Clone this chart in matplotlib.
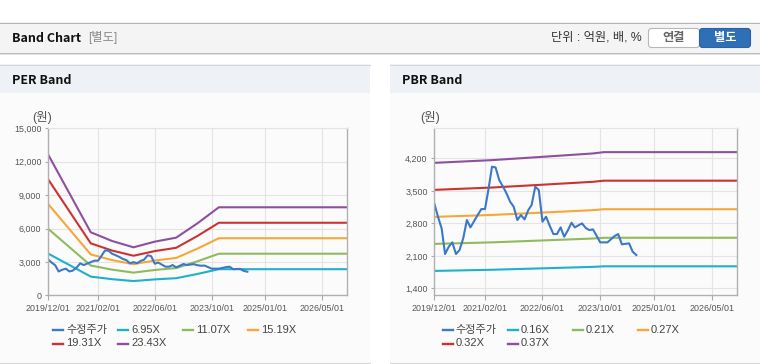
import numpy as np
import pandas as pd
import matplotlib
matplotlib.use('Agg')
from matplotlib import pyplot as plt
from matplotlib.patches import Rectangle, FancyBboxPatch
from matplotlib.lines import Line2D

plt.rcParams['font.family'] = ['Liberation Sans', 'Noto Sans CJK KR', 'DejaVu Sans']

# adjusted share price, monthly from 2019/12
price = [3231, 2944, 2692, 2140, 2298, 2391, 2140, 2226, 2477, 2872, 2714, 2850,
         2980, 3109, 3109, 3518, 4021, 4007, 3734, 3600, 3450, 3267, 3159, 2872,
         2980, 2886, 3087, 3195, 3590, 3518, 2836, 2944, 2750, 2570, 2570, 2714,
         2513, 2650, 2814, 2714, 2760, 2800, 2700, 2656, 2671, 2530, 2391, 2391,
         2391, 2460, 2530, 2570, 2348, 2360, 2369, 2190, 2118]
price_dates = pd.date_range('2019-12-01', periods=len(price), freq='MS')

# PER band: EPS basis
per_dates = pd.to_datetime(['2019-12-01', '2020-12-01', '2021-01-01', '2021-06-01',
                            '2021-12-01', '2022-06-01', '2022-12-01', '2023-06-01',
                            '2023-12-01', '2026-12-01'])
per_eps = [540.5, 241.4, 236.0, 208.2, 184.0, 205.6, 221.0, 275.9, 337.4, 337.4]
per_multiples = [6.95, 11.07, 15.19, 19.31, 23.43]
per_labels = ['6.95X', '11.07X', '15.19X', '19.31X', '23.43X']

# PBR band: BPS basis
pbr_dates = pd.to_datetime(['2019-12-01', '2021-04-01', '2022-06-01', '2023-08-01',
                            '2023-11-01', '2026-12-01'])
pbr_bps = [11095, 11254, 11446, 11643, 11719, 11719]
pbr_multiples = [0.160, 0.2125, 0.265, 0.3175, 0.370]
pbr_labels = ['0.16X', '0.21X', '0.27X', '0.32X', '0.37X']

x_ticks = pd.to_datetime(['2019-12-01', '2021-02-01', '2022-06-01', '2023-10-01',
                          '2025-01-01', '2026-05-01'])
x_tick_labels = ['2019/12/01', '2021/02/01', '2022/06/01', '2023/10/01',
                 '2025/01/01', '2026/05/01']
x_range = pd.to_datetime(['2019-12-01', '2026-12-01'])

colors = ['#3c78c8', '#1fb1c9', '#8fbb5c', '#f6a737', '#cd3232', '#8f4f9f']

W, H = 760, 364
fig = plt.figure(figsize=(W / 100, H / 100), dpi=100)


def box(x, y, w, h, **kw):
    fig.patches.append(Rectangle((x / W, 1 - (y + h) / H), w / W, h / H,
                                 transform=fig.transFigure, lw=0, zorder=-5, **kw))


def hline(x0, x1, y, color, lw=1.0):
    fig.add_artist(Line2D([x0 / W, x1 / W], [1 - y / H, 1 - y / H],
                          color=color, lw=lw * 0.72, zorder=-4))


def text(x, y, s, **kw):
    fig.text(x / W, 1 - y / H, s, va='center', **kw)


# top header bar
box(0, 22, W, 31, fc='#f4f4f4')
hline(0, W, 22.5, '#b4b4b4')
hline(0, W, 53, '#bdbdbd')
hline(0, W, 54, '#e2e2e2')
text(12, 38, 'Band Chart', fontsize=9, fontweight='bold', color='#111',
     family=['Noto Sans CJK KR', 'DejaVu Sans'])
text(88, 38, '[별도]', fontsize=8.8, color='#888')
text(642, 38, '단위 : 억원, 배, %', fontsize=8.8, color='#333', ha='right')

btn1 = FancyBboxPatch((648.5 / W, 1 - 47.5 / H), 51 / W, 19 / H,
                      boxstyle='round,pad=0,rounding_size=%f' % (3 / W),
                      mutation_aspect=W / H, transform=fig.transFigure,
                      fc='white', ec='#b8b8b8', lw=0.8, zorder=-3)
btn2 = FancyBboxPatch((699.5 / W, 1 - 47.5 / H), 51 / W, 19 / H,
                      boxstyle='round,pad=0,rounding_size=%f' % (3 / W),
                      mutation_aspect=W / H, transform=fig.transFigure,
                      fc='#2f6fb6', ec='#2a62a3', lw=0.8, zorder=-3)
fig.patches.extend([btn1, btn2])
text(674, 38, '연결', fontsize=8.8, fontweight='bold', color='#666', ha='center',
     family=['Noto Sans CJK KR'])
text(725, 38, '별도', fontsize=8.8, fontweight='bold', color='white', ha='center',
     family=['Noto Sans CJK KR'])

# panels
for x0, x1, title in [(0, 370, 'PER Band'), (390, 760, 'PBR Band')]:
    box(x0, 64, x1 - x0, 29, fc='#eef2f7')
    box(x0, 93, x1 - x0, 270, fc='#fbfbfb')
    hline(x0, x1, 64.5, '#d6d6d6')
    hline(x0, x1, 362.5, '#d6d6d6')
    text(x0 + 12, 80, title, fontsize=9, fontweight='bold', color='#111',
         family=['Noto Sans CJK KR', 'DejaVu Sans'])


def band_axes(left, width, ylim, yticks, dates, base, mults):
    ax = fig.add_axes([left / W, 1 - 295.3 / H, width / W, 167 / H])
    ax.set_facecolor('#fbfbfb')
    base = np.array(base, dtype=float)
    for m, c in zip(mults, colors[1:]):
        ax.plot(dates, base * m, color=c, lw=1.5, solid_joinstyle='round')
    ax.plot(price_dates, price, color=colors[0], lw=1.5, solid_joinstyle='round')
    ax.set_xlim(x_range[0], x_range[1])
    ax.set_ylim(*ylim)
    ax.set_xticks(x_ticks)
    ax.set_xticklabels(x_tick_labels)
    ax.set_yticks(yticks)
    ax.set_yticklabels(['{:,}'.format(v) for v in yticks])
    ax.grid(True, color='#e4e4e4', lw=0.8)
    ax.set_axisbelow(True)
    for s in ['left', 'bottom', 'right']:
        ax.spines[s].set_color('#b0b0b0')
        ax.spines[s].set_linewidth(1.0)
    ax.spines['top'].set_color('#e4e4e4')
    ax.spines['top'].set_linewidth(0.8)
    ax.tick_params(axis='both', colors='#aaaaaa', labelcolor='#555555',
                   labelsize=6.4, width=0.8)
    ax.tick_params(axis='x', length=3.5, pad=2.5)
    ax.tick_params(axis='y', length=2.5, pad=2.3)
    return ax


band_axes(48, 299, (0, 15000), [0, 3000, 6000, 9000, 12000, 15000],
          per_dates, per_eps, per_multiples)
band_axes(434.3, 303, (1250, 4850), [1400, 2100, 2800, 3500, 4200],
          pbr_dates, pbr_bps, pbr_multiples)

text(42, 117, '(원)', fontsize=9, color='#555', ha='center')
text(430, 117, '(원)', fontsize=9, color='#555', ha='center')


def legend(x0, labels):
    names = ['수정주가'] + labels
    for i, (name, c) in enumerate(zip(names, colors)):
        x = x0 + 65 * (i % 4)
        y = 330 if i < 4 else 343.5
        fig.add_artist(Line2D([x / W, (x + 10) / W], [1 - y / H, 1 - y / H],
                              color=c, lw=1.7))
        text(x + 13, y, name, fontsize=8, color='#444')


legend(53, per_labels)
legend(442.7, pbr_labels)

fig.savefig('out.png', dpi=100)
